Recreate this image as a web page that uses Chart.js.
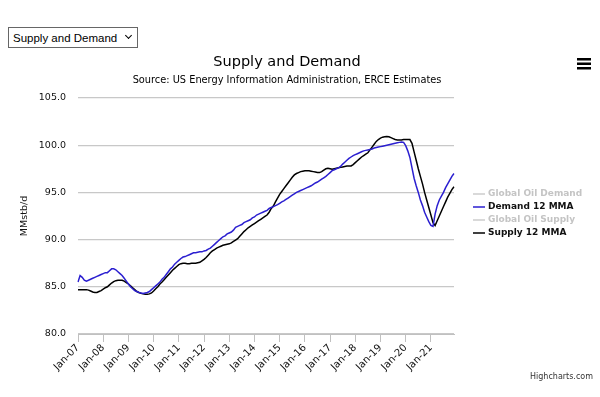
<!DOCTYPE html>
<html>
<head>
<meta charset="utf-8">
<script src="https://cdn.jsdelivr.net/npm/chart.js@4"></script>
<style>
    html, body { margin: 0; padding: 0; background: #fff; }
    #wrap { position: relative; width: 600px; height: 397px; }
    #picker {
        position: absolute; left: 8px; top: 27px; width: 130px; height: 21px;
        padding: 0 0 0 4px; box-sizing: border-box;
        -webkit-appearance: none; appearance: none;
        font: 11.5px "Liberation Sans", Arial, sans-serif; color: #000;
        border: 1px solid #666; border-radius: 0; background: #fff; z-index: 2;
    }
    #chevron {
        position: absolute; left: 126px; top: 33px; width: 4px; height: 4px;
        border-right: 1.5px solid #000; border-bottom: 1.5px solid #000;
        transform: rotate(45deg); z-index: 3; pointer-events: none;
    }
</style>
</head>
<body>
<div id="wrap">
    <select id="picker"><option>Supply and Demand</option></select>
    <div id="chevron"></div>
    <canvas id="chart" width="600" height="397"></canvas>
</div>
<script>
// Tick labels
const monthNames = ['Jan', 'Feb', 'Mar', 'Apr', 'May', 'Jun', 'Jul', 'Aug', 'Sep', 'Oct', 'Nov', 'Dec'];
const years = ['07', '08', '09', '10', '11', '12', '13', '14', '15', '16', '17', '18', '19', '20', '21'];
const yTicks = [80, 85, 90, 95, 100, 105];

// Legend entries (the two raw series are switched off in the original)
const legendNames = ['Global Oil Demand', 'Demand 12 MMA', 'Global Oil Supply', 'Supply 12 MMA'];
const legendShown = [false, true, false, true];

// Demand 12 MMA, MMstb/d, Jan-07 .. Dec-21 (one row per year)
const demand12mma = [
    85.5, 86.2, 86.0, 85.7, 85.6, 85.7, 85.8, 85.9, 86.0, 86.1, 86.2, 86.3,
    86.4, 86.5, 86.5, 86.7, 86.9, 86.9, 86.8, 86.6, 86.4, 86.2, 85.9, 85.6,
    85.3, 85.0, 84.8, 84.6, 84.5, 84.4, 84.35, 84.3, 84.35, 84.4, 84.5, 84.7,
    84.9, 85.1, 85.3, 85.5, 85.8, 86.0, 86.3, 86.6, 86.9, 87.1, 87.4, 87.6,
    87.8, 88.0, 88.15, 88.2, 88.3, 88.4, 88.5, 88.6, 88.6, 88.65, 88.7, 88.7,
    88.8, 88.85, 89.0, 89.1, 89.3, 89.5, 89.7, 89.9, 90.1, 90.3, 90.4, 90.6,
    90.7, 90.8, 91.0, 91.3, 91.4, 91.5, 91.6, 91.8, 91.9, 92.0, 92.1, 92.3,
    92.4, 92.6, 92.7, 92.8, 92.9, 93.0, 93.1, 93.3, 93.4, 93.5, 93.6, 93.7,
    93.85, 94.0, 94.1, 94.25, 94.4, 94.55, 94.7, 94.85, 95.0, 95.1, 95.2, 95.3,
    95.4, 95.5, 95.6, 95.7, 95.85, 96.0, 96.1, 96.25, 96.4, 96.55, 96.7, 96.9,
    97.1, 97.3, 97.4, 97.5, 97.6, 97.75, 98.0, 98.2, 98.4, 98.6, 98.75, 98.9,
    99.0, 99.1, 99.2, 99.3, 99.4, 99.45, 99.5, 99.55, 99.6, 99.7, 99.75, 99.8,
    99.85, 99.9, 99.95, 100.0, 100.05, 100.1, 100.15, 100.2, 100.25, 100.3, 100.35, 100.3,
    99.95, 99.4, 98.7, 97.6, 96.5, 95.7, 95.0, 94.2, 93.6, 92.9, 92.4, 91.9,
    91.5, 91.4, 92.7, 93.6, 94.2, 94.6, 95.0, 95.5, 95.9, 96.3, 96.7, 97.0,
];

// Supply 12 MMA, MMstb/d, Jan-07 .. Dec-21
const supply12mma = [
    84.7, 84.7, 84.7, 84.7, 84.7, 84.65, 84.55, 84.45, 84.4, 84.4, 84.5, 84.6,
    84.75, 84.9, 85.0, 85.2, 85.4, 85.55, 85.65, 85.7, 85.7, 85.7, 85.6, 85.45,
    85.3, 85.1, 84.9, 84.7, 84.5, 84.4, 84.3, 84.25, 84.2, 84.2, 84.25, 84.35,
    84.55, 84.8, 85.0, 85.3, 85.5, 85.75, 86.0, 86.25, 86.5, 86.75, 86.95, 87.15,
    87.35, 87.45, 87.5, 87.5, 87.45, 87.45, 87.5, 87.5, 87.5, 87.55, 87.6, 87.75,
    87.9, 88.1, 88.35, 88.6, 88.8, 88.95, 89.1, 89.2, 89.3, 89.4, 89.45, 89.5,
    89.55, 89.65, 89.8, 89.95, 90.1, 90.35, 90.6, 90.85, 91.05, 91.25, 91.4, 91.55,
    91.7, 91.85, 92.0, 92.15, 92.3, 92.45, 92.6, 92.9, 93.3, 93.55, 94.0, 94.4,
    94.8, 95.1, 95.4, 95.7, 96.0, 96.3, 96.6, 96.85, 97.0, 97.1, 97.2, 97.25,
    97.3, 97.3, 97.3, 97.25, 97.2, 97.15, 97.1, 97.1, 97.2, 97.35, 97.5, 97.55,
    97.5, 97.45, 97.5, 97.55, 97.6, 97.65, 97.7, 97.75, 97.8, 97.8, 97.8, 97.95,
    98.15, 98.35, 98.55, 98.75, 98.9, 99.05, 99.2, 99.5, 99.8, 100.1, 100.4, 100.6,
    100.75, 100.85, 100.9, 100.92, 100.9, 100.8, 100.7, 100.6, 100.55, 100.55, 100.55, 100.6,
    100.6, 100.6, 100.6, 100.2, 99.3, 98.4, 97.5, 96.7, 95.9, 95.0, 94.2, 93.4,
    92.6, 91.8, 91.5, 92.0, 92.5, 93.0, 93.5, 94.0, 94.5, 94.9, 95.3, 95.6,
];

const labels = [];
years.forEach(y => monthNames.forEach(m => labels.push(m + '-' + y)));

const BLUE = '#2b1fd0';
const FONT = '"DejaVu Sans", sans-serif';

// Title, subtitle, menu icon, credit and the Highcharts-style legend
const decorations = {
    id: 'decorations',
    afterDraw(chart) {
        const c = chart.ctx;
        c.save();
        c.textBaseline = 'middle';
        c.textAlign = 'center';
        c.fillStyle = '#000';
        c.font = '14.5px ' + FONT;
        c.fillText('Supply and Demand', 287, 62);
        c.font = '9.8px ' + FONT;
        c.fillText('Source: US Energy Information Administration, ERCE Estimates', 287, 80);

        // menu icon
        [58, 62.5, 67].forEach(y => c.fillRect(577, y, 14, 2.5));

        c.textAlign = 'right';
        c.fillStyle = '#333';
        c.font = '8px ' + FONT;
        c.fillText('Highcharts.com', 593, 377);

        // legend
        c.textAlign = 'left';
        c.font = 'bold 9px ' + FONT;
        const lineColors = ['#cccccc', BLUE, '#cccccc', '#000'];
        legendNames.forEach((name, i) => {
            const y = 194 + i * 13;
            c.strokeStyle = lineColors[i];
            c.lineWidth = 1.5;
            c.beginPath();
            c.moveTo(473, y);
            c.lineTo(485, y);
            c.stroke();
            c.fillStyle = legendShown[i] ? '#111' : '#c4c4c4';
            c.fillText(name, 488, y);
        });
        c.restore();
    },
};

new Chart(document.getElementById('chart'), {
    type: 'line',
    data: {
        labels: labels,
        datasets: [{
            label: 'Demand 12 MMA',
            data: demand12mma,
            borderColor: BLUE,
            borderWidth: 1.5,
            pointRadius: 0,
            tension: 0,
        }, {
            label: 'Supply 12 MMA',
            data: supply12mma,
            borderColor: '#000',
            borderWidth: 1.5,
            pointRadius: 0,
            tension: 0,
        }],
    },
    options: {
        responsive: false,
        animation: false,
        layout: {
            padding: { top: 98, right: 146, bottom: 0, left: 0 },
        },
        scales: {
            x: {
                offset: false,
                afterFit: (s) => { s.height = 63; },
                grid: {
                    drawOnChartArea: false,
                    drawTicks: true,
                    tickLength: 8,
                    color: '#c0c0c0',
                },
                border: { color: '#c0c0c0', width: 1 },
                ticks: {
                    autoSkip: false,
                    minRotation: 45,
                    maxRotation: 45,
                    padding: 0,
                    color: '#111',
                    font: { family: FONT, size: 10 },
                    callback: (v, i) => (i % 12 === 0 ? labels[i] : null),
                },
            },
            y: {
                min: yTicks[0],
                max: yTicks[yTicks.length - 1],
                afterFit: (s) => { s.width = 78; },
                afterBuildTicks: (s) => { s.ticks = yTicks.map(v => ({ value: v })); },
                grid: {
                    drawTicks: false,
                    color: '#c8c8c8',
                    lineWidth: 1.2,
                },
                border: { display: false },
                title: {
                    display: true,
                    text: 'MMstb/d',
                    color: '#111',
                    font: { family: FONT, size: 9.5 },
                    padding: { top: 19, bottom: 0 },
                },
                ticks: {
                    padding: 12,
                    color: '#111',
                    font: { family: FONT, size: 9.5 },
                    callback: (v) => v.toFixed(1),
                },
            },
        },
        plugins: {
            legend: { display: false },
            tooltip: { enabled: false },
        },
    },
    plugins: [decorations],
});
</script>
</body>
</html>
